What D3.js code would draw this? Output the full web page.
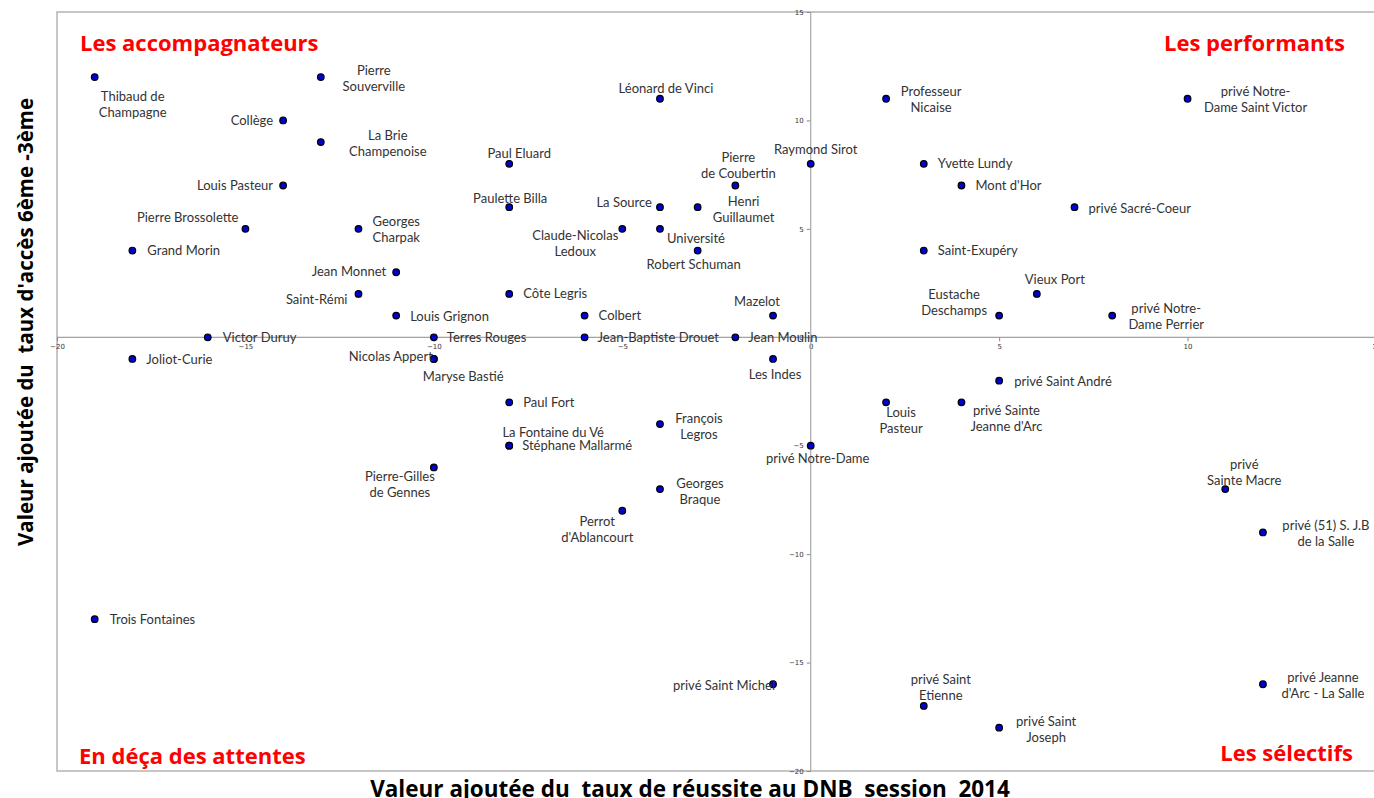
<!DOCTYPE html>
<html>
<head>
<meta charset="utf-8">
<script src="https://cdn.jsdelivr.net/npm/d3@7"></script>
<style>
  html, body { margin: 0; padding: 0; background: #fff; overflow: hidden; }
  svg { display: block; }
  .title { white-space: pre; }
</style>
</head>
<body>
<svg id="chart"></svg>
<script>
// Collèges: names (line breaks as in the source chart), x = VA réussite DNB, y = VA accès 6e-3e
const names = [
  "Thibaud de\nChampagne", "Pierre\nSouverville", "Collège", "La Brie\nChampenoise", "Louis Pasteur",
  "Pierre Brossolette", "Georges\nCharpak", "Grand Morin", "Jean Monnet", "Saint-Rémi",
  "Louis Grignon", "Victor Duruy", "Joliot-Curie", "Terres Rouges", "Nicolas Appert",
  "Maryse Bastié", "Pierre-Gilles\nde Gennes", "Paul Eluard", "Paulette Billa", "Côte Legris",
  "Paul Fort", "La Fontaine du Vé", "Stéphane Mallarmé", "Léonard de Vinci", "La Source",
  "Henri\nGuillaumet", "Claude-Nicolas\nLedoux", "Université", "Robert Schuman", "Pierre\nde Coubertin",
  "Colbert", "Jean-Baptiste Drouet", "Jean Moulin", "Mazelot", "Les Indes",
  "François\nLegros", "Georges\nBraque", "Perrot\nd'Ablancourt", "privé Saint Michel", "Raymond Sirot",
  "privé Notre-Dame", "Professeur\nNicaise", "Yvette Lundy", "Mont d'Hor", "privé Sacré-Coeur",
  "Saint-Exupéry", "Vieux Port", "Eustache\nDeschamps", "privé Notre-\nDame Perrier", "privé Notre-\nDame Saint Victor",
  "privé Saint André", "Louis\nPasteur", "privé Sainte\nJeanne d'Arc", "privé\nSainte Macre", "privé (51) S. J.B\nde la Salle",
  "privé Jeanne\nd'Arc - La Salle", "privé Saint\nEtienne", "privé Saint\nJoseph", "Trois Fontaines"
];
const xValues = [
  -19, -13, -14, -13, -14,
  -15, -12, -18, -11, -12,
  -11, -16, -18, -10, -10,
  -10, -10, -8, -8, -8,
  -8, -8, -8, -4, -4,
  -3, -5, -4, -3, -2,
  -6, -6, -2, -1, -1,
  -4, -4, -5, -1, 0,
  0, 2, 3, 4, 7,
  3, 6, 5, 8, 10,
  5, 2, 4, 11, 12,
  12, 3, 5, -19
];
const yValues = [
  12, 12, 10, 9, 7,
  5, 5, 4, 3, 2,
  1, 0, -1, 0, -1,
  -1, -6, 8, 6, 2,
  -3, -5, -5, 11, 6,
  6, 5, 5, 4, 7,
  1, 0, 0, 1, -1,
  -4, -7, -8, -16, 8,
  -5, 11, 8, 7, 6,
  4, 2, 1, 1, 11,
  -2, -3, -3, -7, -9,
  -16, -17, -18, -13
];
const tickValues = [-20, -15, -10, -5, 0, 5, 10, 15];

const quadrantTitles = ["Les accompagnateurs", "Les performants", "En déça des attentes", "Les sélectifs"];
const xTitle = "Valeur ajoutée du  taux de réussite au DNB  session  2014";
const yTitle = "Valeur ajoutée du  taux d'accès 6ème -3ème";

// label placement (anchor, dx, dy of first line), same order as names
const labelLayout = [
  ["middle", 38, 19], ["middle", 53, -7], ["end", -10, 0], ["middle", 67, -7], ["end", -10, 0],
  ["end", -7, -11], ["start", 14, -7], ["start", 15, 0], ["end", -10, -1], ["end", -11, 6],
  ["start", 14, 1], ["start", 15, 0], ["start", 14, 0], ["start", 13, 0], ["end", -1, -3],
  ["start", -11, 17], ["middle", -34, 9], ["middle", 10, -10], ["middle", 1, -9], ["start", 14, 0],
  ["start", 14, 0], ["middle", 44, -13], ["start", 13, 0], ["middle", 6, -10], ["end", -8, -5],
  ["middle", 46, -6], ["middle", -47, 7], ["middle", 36, 10], ["middle", -4, 14], ["middle", 3, -28],
  ["start", 14, 0], ["start", 13, 0], ["start", 13, 0], ["middle", -16, -14], ["middle", 2, 15],
  ["middle", 39, -6], ["middle", 40, -6], ["middle", -25, 11], ["end", 2, 1], ["middle", 5, -14],
  ["middle", 7, 13], ["middle", 45, -7], ["start", 14, 0], ["start", 14, 0], ["start", 14, 1],
  ["start", 14, 0], ["middle", 18, -14], ["middle", -45, -21], ["middle", 54, -7], ["middle", 68, -7],
  ["start", 15, 1], ["middle", 15, 10], ["middle", 45, 8], ["middle", 19, -25], ["middle", 63, -7],
  ["middle", 60, -7], ["middle", 17, -26], ["middle", 47, -6], ["start", 15, 0]
];

const W = 1374, H = 798;
const svg = d3.select("#chart").attr("width", W).attr("height", H);

const x = d3.scaleLinear().domain([-20, 15]).range([57, 1376]);
const y = d3.scaleLinear().domain([-20, 15]).range([771, 12]);

const labelFont = "Lato, 'Open Sans', sans-serif";
const titleFont = "'Open Sans', 'Liberation Sans', sans-serif";

// plot frame
svg.append("rect")
  .attr("x", x(-20)).attr("y", y(15))
  .attr("width", x(15) - x(-20)).attr("height", y(-20) - y(15))
  .attr("fill", "none").attr("stroke", "#b4b4b4").attr("stroke-width", 1.5);

// axes through zero
const xAxis = svg.append("g")
  .attr("transform", `translate(0,${y(0)})`)
  .call(d3.axisBottom(x).tickValues(tickValues).tickSize(4).tickPadding(3));
const yAxis = svg.append("g")
  .attr("transform", `translate(${x(0)},0)`)
  .call(d3.axisLeft(y).tickValues(tickValues).tickSize(4).tickPadding(3));

[xAxis, yAxis].forEach(g => {
  g.select(".domain").remove();
  g.selectAll(".tick line").attr("stroke", "#888");
  g.selectAll(".tick text")
    .attr("fill", "#333")
    .attr("font-size", "7px")
    .attr("font-family", "'DejaVu Sans', sans-serif");
});

svg.append("line")
  .attr("x1", x(-20)).attr("x2", x(15))
  .attr("y1", y(0)).attr("y2", y(0))
  .attr("stroke", "#8c8c8c").attr("stroke-width", 1);
svg.append("line")
  .attr("x1", x(0)).attr("x2", x(0))
  .attr("y1", y(15)).attr("y2", y(-20))
  .attr("stroke", "#a8a8a8").attr("stroke-width", 1.2);

// points
const pts = names.map((n, i) => ({ name: n, vx: xValues[i], vy: yValues[i], lay: labelLayout[i] }));

svg.append("g")
  .selectAll("circle")
  .data(pts)
  .join("circle")
  .attr("cx", d => x(d.vx))
  .attr("cy", d => y(d.vy))
  .attr("r", 3.3)
  .attr("fill", "#0000d0")
  .attr("stroke", "#000")
  .attr("stroke-width", 1.2);

// labels
const labels = svg.append("g")
  .selectAll("text")
  .data(pts)
  .join("text")
  .attr("x", d => x(d.vx) + d.lay[1])
  .attr("y", d => y(d.vy) + d.lay[2])
  .attr("text-anchor", d => d.lay[0])
  .attr("font-family", labelFont)
  .attr("font-size", "13px")
  .attr("fill", "#333");

labels.each(function(d) {
  const t = d3.select(this);
  const px = x(d.vx) + d.lay[1];
  d.name.split("\n").forEach((line, k) => {
    t.append("tspan")
      .attr("x", px)
      .attr("dy", k === 0 ? "0.35em" : "16px")
      .text(line);
  });
});

// quadrant titles
const qPos = [
  [80, 51, "start"], [1345, 51, "end"], [79, 764, "start"], [1353, 761, "end"]
];
svg.append("g")
  .selectAll("text")
  .data(quadrantTitles)
  .join("text")
  .attr("x", (d, i) => qPos[i][0])
  .attr("y", (d, i) => qPos[i][1])
  .attr("text-anchor", (d, i) => qPos[i][2])
  .attr("font-family", titleFont)
  .attr("font-weight", "700")
  .attr("font-size", "22px")
  .attr("fill", "#ff0000")
  .text(d => d);

// axis titles
svg.append("text")
  .attr("class", "title")
  .attr("x", 690).attr("y", 797)
  .attr("text-anchor", "middle")
  .attr("font-family", titleFont)
  .attr("font-weight", "700")
  .attr("font-size", "22.5px")
  .attr("fill", "#000")
  .text(xTitle);

svg.append("text")
  .attr("class", "title")
  .attr("transform", "translate(33,322) rotate(-90)")
  .attr("text-anchor", "middle")
  .attr("font-family", titleFont)
  .attr("font-weight", "700")
  .attr("font-size", "20.5px")
  .attr("fill", "#000")
  .text(yTitle);
</script>
</body>
</html>
